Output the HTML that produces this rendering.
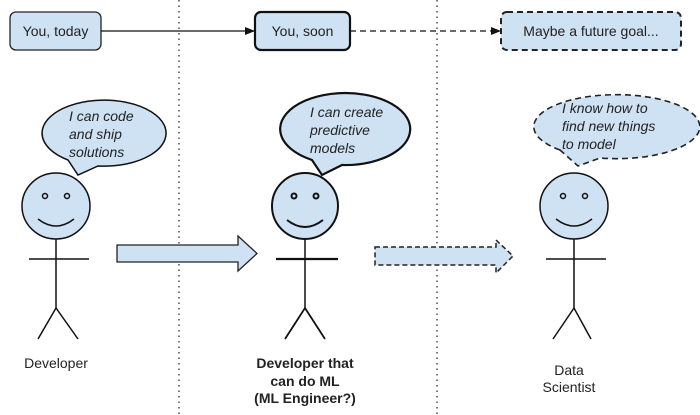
<!DOCTYPE html>
<html><head><meta charset="utf-8"><style>
html,body{margin:0;padding:0;background:#fff;width:700px;height:415px;overflow:hidden}
svg{display:block}
text{font-family:"Liberation Sans",sans-serif;font-size:14px;fill:#222}
.it{font-style:italic}
</style></head><body>
<svg width="700" height="415" viewBox="0 0 700 415">
<defs>
<marker id="ah" markerWidth="10" markerHeight="8" refX="9" refY="4" orient="auto" markerUnits="userSpaceOnUse">
<path d="M0,0 L10,4 L0,8 z" fill="#111"/></marker>
</defs>
<line x1="179" y1="0" x2="179" y2="415" stroke="#333" stroke-width="1.3" stroke-dasharray="1.5 4"/>
<line x1="437" y1="0" x2="437" y2="415" stroke="#333" stroke-width="1.3" stroke-dasharray="1.5 4"/>

<rect x="10" y="12" width="91" height="38" rx="6" fill="#cfe2f3" stroke="#222" stroke-width="1.3"/>
<text x="55.5" y="36" text-anchor="middle">You, today</text>
<rect x="255" y="12" width="95" height="38" rx="6" fill="#cfe2f3" stroke="#111" stroke-width="2.2"/>
<text x="302.5" y="36" text-anchor="middle">You, soon</text>
<rect x="501" y="12" width="180" height="38" rx="6" fill="#cfe2f3" stroke="#222" stroke-width="2" stroke-dasharray="6 4"/>
<text x="591" y="36" text-anchor="middle" font-size="13">Maybe a future goal...</text>

<line x1="101" y1="31" x2="254" y2="31" stroke="#111" stroke-width="1.3" marker-end="url(#ah)"/>
<line x1="350" y1="31" x2="500" y2="31" stroke="#111" stroke-width="1.3" stroke-dasharray="6 4" marker-end="url(#ah)"/>

<path d="M68,160 A62,33 0 1 1 98,166 L78,175 Z" fill="#cfe2f3" stroke="#111" stroke-width="1.5"/>
<text class="it" x="69" y="121">I can code</text>
<text class="it" x="69" y="139">and ship</text>
<text class="it" x="69" y="157">solutions</text>

<path d="M312,160 A65,36 0 1 1 342,165 L322,175 Z" fill="#cfe2f3" stroke="#111" stroke-width="2.2"/>
<text class="it" x="310" y="117">I can create</text>
<text class="it" x="310" y="135">predictive</text>
<text class="it" x="310" y="153">models</text>

<path d="M560,150 A83,32 0 1 1 600,158 L578,166 Z" fill="#cfe2f3" stroke="#222" stroke-width="1.6" stroke-dasharray="6 4"/>
<text class="it" x="562" y="113">I know how to</text>
<text class="it" x="562" y="131">find new things</text>
<text class="it" x="562" y="149">to model</text>

<g stroke="#111" stroke-width="1.5" fill="none">
<ellipse cx="56" cy="206" rx="34" ry="33" fill="#cfe2f3"/>
<circle cx="45" cy="196" r="2.5"/><circle cx="67" cy="196" r="2.5"/>
<path d="M38,219 Q56,233 74,219"/>
<line x1="56" y1="239" x2="56" y2="308"/><line x1="29" y1="259" x2="89" y2="259"/>
<path d="M38,339 L56,308 L78,339"/>

<ellipse cx="305" cy="206" rx="33" ry="33" fill="#cfe2f3" stroke-width="2"/>
<circle cx="294" cy="196" r="2.5" stroke-width="2"/><circle cx="316" cy="196" r="2.5" stroke-width="2"/>
<path d="M287,220 Q305,234 323,220" stroke-width="2"/>
<line x1="305" y1="239" x2="305" y2="308"/><line x1="276" y1="259" x2="338" y2="259" stroke-width="2.2"/>
<path d="M285,339 L305,308 L325,339" stroke-width="1.8"/>

<ellipse cx="574" cy="206" rx="34" ry="33" fill="#cfe2f3"/>
<circle cx="563" cy="196" r="2.5"/><circle cx="585" cy="196" r="2.5"/>
<path d="M556,219 Q574,233 592,219"/>
<line x1="574" y1="239" x2="574" y2="308"/><line x1="546" y1="259" x2="606" y2="259"/>
<path d="M553,339 L574,308 L591,339"/>
</g>

<path d="M117,245 L238,245 L238,236 L257,253.5 L238,271 L238,262 L117,262 Z" fill="#cfe2f3" stroke="#222" stroke-width="1.3"/>
<path d="M375,247 L496,247 L496,240 L513,256 L496,273 L496,265 L375,265 Z" fill="#cfe2f3" stroke="#222" stroke-width="1.5" stroke-dasharray="5 3"/>

<text x="56" y="368" text-anchor="middle" font-size="13">Developer</text>
<text x="305" y="368" text-anchor="middle" font-size="13" font-weight="bold">Developer that</text>
<text x="305" y="386" text-anchor="middle" font-size="13" font-weight="bold">can do ML</text>
<text x="305" y="403" text-anchor="middle" font-size="13" font-weight="bold">(ML Engineer?)</text>
<text x="569" y="375" text-anchor="middle" font-size="13">Data</text>
<text x="569" y="392" text-anchor="middle" font-size="13">Scientist</text>
</svg>
</body></html>
